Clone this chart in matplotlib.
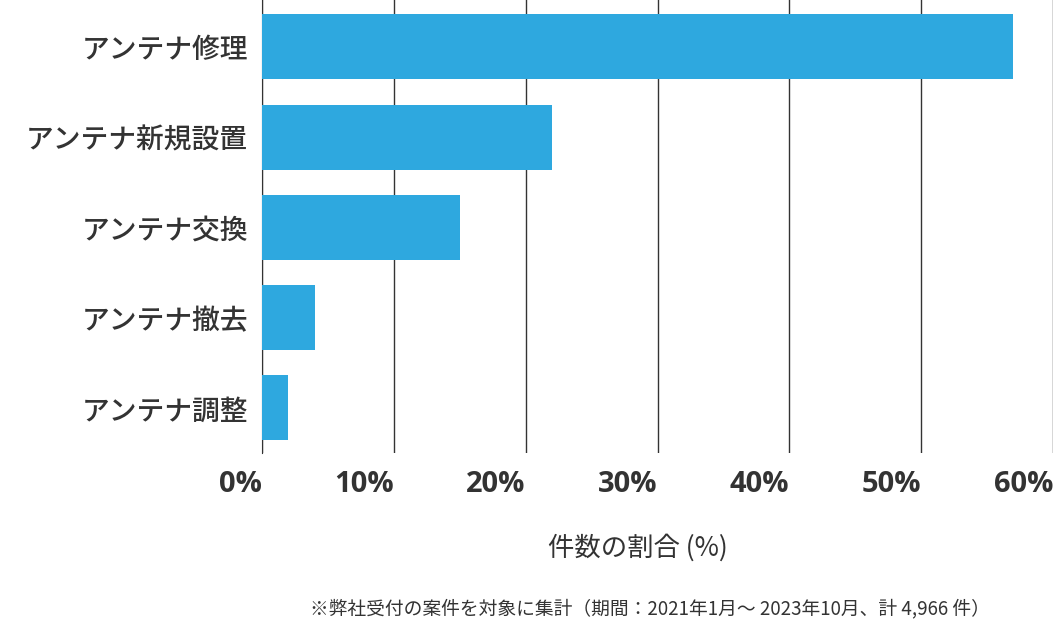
import matplotlib.pyplot as plt

plt.rcParams['font.family'] = ['Noto Sans CJK JP', 'DejaVu Sans']

labels = ["アンテナ修理", "アンテナ新規設置", "アンテナ交換", "アンテナ撤去", "アンテナ調整"]
values = [57.0, 22.0, 15.0, 4.0, 2.0]
xticks = [0, 10, 20, 30, 40, 50, 60]

fig = plt.figure(figsize=(10.54, 6.29), dpi=100)
ax = fig.add_axes([262/1054, 1 - 453/629, 791/1054, 453/629])

ax.barh(range(len(labels)), values, height=0.72, color="#2ea8df", zorder=3)
ax.set_ylim(4.5, -0.52)
ax.set_xlim(0, 60)
ax.set_xticks(xticks)
ax.set_xticklabels([f"{t}%" for t in xticks], fontsize=21, fontweight="bold",
                   color="#333333", ha="right", family=["Open Sans", "DejaVu Sans"])
ax.set_yticks(range(len(labels)))
ax.set_yticklabels(labels, fontsize=20, fontweight="medium", color="#333333")
ax.tick_params(length=0)
ax.tick_params(axis="x", pad=12)
ax.tick_params(axis="y", pad=10)
ax.grid(axis="x", color="#333333", linewidth=1, zorder=0)
for s in ["top", "right", "bottom"]:
    ax.spines[s].set_visible(False)
ax.spines["left"].set_color("#333333")

fig.text(0.605, 1 - 548/629, "件数の割合 (%)", ha="center", va="center", fontsize=19, color="#333333")
fig.text(0.617, 1 - 609/629, "※弊社受付の案件を対象に集計（期間：2021年1月～ 2023年10月、計 4,966 件）",
         ha="center", va="center", fontsize=13.5, color="#333333")

fig.savefig("out.png", dpi=100)
